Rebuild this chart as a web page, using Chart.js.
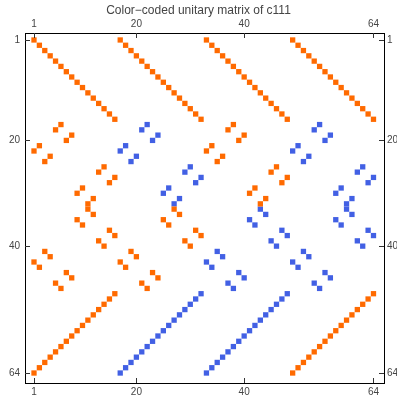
<!DOCTYPE html>
<html>
<head>
<meta charset="utf-8">
<title>Color-coded unitary matrix of c111</title>
<script src="https://cdn.jsdelivr.net/npm/chart.js@4.4.1/dist/chart.umd.min.js"></script>
<style>
    html, body { margin: 0; padding: 0; background: #fff; }
    #wrap { width: 397px; height: 396px; }
</style>
</head>
<body>
<div id="wrap"><canvas id="matrixChart" width="397" height="396"></canvas></div>
<script>
// Matrix size and labelled ticks
const matrixSize = 64;
const tickValues = [1, 20, 40, 64];

// Column (1..16) of the nonzero entry inside each 16-column block, row by row
const blockCol = [
    1, 2, 3, 4, 5, 6, 7, 8, 9, 10, 11, 12, 13, 14, 15, 16,
    6, 5, 8, 7, 2, 1, 4, 3, 14, 13, 16, 15, 10, 9, 12, 11,
    11, 12, 9, 10, 15, 16, 13, 14, 3, 4, 1, 2, 7, 8, 5, 6,
    16, 15, 14, 13, 12, 11, 10, 9, 8, 7, 6, 5, 4, 3, 2, 1
];

// Sign of the entries in blocks 1..4 for each band of 16 rows
const bandSigns = [
    [1, 1, 1, 1],
    [1, -1, 1, -1],
    [1, 1, -1, -1],
    [1, -1, -1, 1]
];

const entryValue = 0.5;
const posColor = '#ff6a00';
const negColor = '#4260e4';

// Collect entries into positive / negative point lists
const positive = [];
const negative = [];
blockCol.forEach((c, i) => {
    const row = i + 1;
    const signs = bandSigns[Math.floor(i / 16)];
    signs.forEach((s, b) => {
        const pt = { x: b * 16 + c, y: row, v: s * entryValue };
        (s > 0 ? positive : negative).push(pt);
    });
});

// Inward tick marks on all four sides of the frame
const innerTicks = {
    id: 'innerTicks',
    afterDraw(chart) {
        const { ctx, chartArea: a, scales } = chart;
        const len = 5;
        ctx.save();
        ctx.strokeStyle = '#333';
        ctx.lineWidth = 1;
        tickValues.forEach(v => {
            const x = Math.round(scales.x.getPixelForValue(v)) + 0.5;
            const y = Math.round(scales.y.getPixelForValue(v)) + 0.5;
            ctx.beginPath();
            ctx.moveTo(x, a.top); ctx.lineTo(x, a.top + len);
            ctx.moveTo(x, a.bottom); ctx.lineTo(x, a.bottom - len);
            ctx.moveTo(a.left, y); ctx.lineTo(a.left + len, y);
            ctx.moveTo(a.right, y); ctx.lineTo(a.right - len, y);
            ctx.stroke();
        });
        ctx.restore();
    }
};

const labelFont = { family: 'Liberation Sans, Arial, sans-serif', size: 10 };
const labelColor = '#444';

function setTicks(scale) {
    scale.ticks = tickValues.map(v => ({ value: v }));
}

function axis(position, axisType, size, pad, range) {
    return {
        type: 'linear',
        position: position,
        axis: axisType,
        min: range[0],
        max: range[1],
        reverse: axisType === 'y',
        afterBuildTicks: setTicks,
        afterFit: function(scale) {
            if (axisType === 'x') scale.height = size; else scale.width = size;
        },
        ticks: {
            autoSkip: false,
            maxRotation: 0,
            padding: pad,
            color: labelColor,
            font: labelFont,
            callback: v => String(v)
        },
        grid: { display: true, drawOnChartArea: false, drawTicks: false },
        border: { display: true, color: '#000', width: 1 }
    };
}

const xRange = [-0.67, 65.95];
const yRange = [-0.32, 65.89];

new Chart(document.getElementById('matrixChart').getContext('2d'), {
    type: 'scatter',
    data: {
        datasets: [
            {
                label: 'positive',
                data: positive,
                backgroundColor: posColor,
                borderWidth: 0,
                pointStyle: 'rect',
                pointRadius: 3.75,
                pointHoverRadius: 3.75
            },
            {
                label: 'negative',
                data: negative,
                backgroundColor: negColor,
                borderWidth: 0,
                pointStyle: 'rect',
                pointRadius: 3.75,
                pointHoverRadius: 3.75
            }
        ]
    },
    options: {
        responsive: false,
        animation: false,
        layout: { padding: 0 },
        plugins: {
            legend: { display: false },
            tooltip: { enabled: false },
            title: {
                display: true,
                text: 'Color\u2212coded unitary matrix of c111',
                color: '#444',
                font: { family: 'Liberation Sans, Arial, sans-serif', size: 12, weight: 'normal' },
                padding: { top: 3, bottom: 0 }
            }
        },
        scales: {
            x: axis('bottom', 'x', 13, 3, xRange),
            x2: axis('top', 'x', 15.6, 3, xRange),
            y: axis('left', 'y', 25, 5, yRange),
            y2: axis('right', 'y', 13, 3, yRange)
        }
    },
    plugins: [innerTicks]
});
</script>
</body>
</html>
